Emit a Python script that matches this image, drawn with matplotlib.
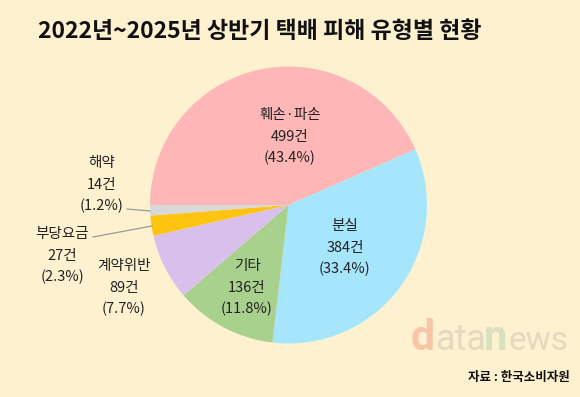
import matplotlib.pyplot as plt

plt.rcParams['font.family'] = ['Noto Sans CJK KR', 'DejaVu Sans']

categories = ['훼손·파손', '분실', '기타', '계약위반', '부당요금', '해약']
counts = [499, 384, 136, 89, 27, 14]
shares = [43.4, 33.4, 11.8, 7.7, 2.3, 1.2]
colors = ['#FFB6B6', '#A6E6FC', '#A9D18E', '#D9C0EC', '#FFC412', '#D9D9D9']

# label anchor points in pixel coords (x, y from top)
label_pos = [(290, 137), (345, 248), (247, 288), (124, 288), (62, 256), (102, 185)]

bg = '#FEF1CF'
W, H = 580, 397
fig = plt.figure(figsize=(W / 100, H / 100), dpi=100, facecolor=bg)
ax = fig.add_axes([0, 0, 1, 1])
ax.set_facecolor(bg)

cx, cy, r = 288.5, H - 205, 138.5
ax.pie(counts, colors=colors, startangle=180, counterclock=False,
       center=(cx, cy), radius=r, wedgeprops=dict(linewidth=0))
ax.set_xlim(0, W)
ax.set_ylim(0, H)
ax.set_aspect('equal')
ax.axis('off')

for cat, n, s, (x, y) in zip(categories, counts, shares, label_pos):
    ax.text(x, H - y, f'{cat}\n{n}건\n({s}%)', ha='center', va='center',
            fontsize=10.5, color='#222222', linespacing=1.65)

# leader lines for small slices
ax.plot([127, 150], [H - 209, H - 211], color='#999999', lw=0.9)
ax.plot([93, 152], [H - 237, H - 226], color='#999999', lw=0.9)

ax.text(260, H - 31, '2022년~2025년 상반기 택배 피해 유형별 현황',
        ha='center', va='center', fontsize=16.5, fontweight='bold', color='#111111')

# watermark
wm = [('d', 411, '#F6C6A6', 'bold', 31), ('ata', 435, '#E4D8BF', 'normal', 26),
      ('n', 484, '#D9E0BD', 'bold', 30), ('ews', 509, '#E4D8BF', 'normal', 24)]
for t, x, c, w, fs in wm:
    ax.text(x, H - 350, t, ha='left', va='baseline', fontsize=fs,
            color=c, fontweight=w, family='Roboto')

ax.text(570, H - 378, '자료 : 한국소비자원', ha='right', va='center',
        fontsize=9, fontweight='bold', color='#111111')

fig.savefig('out.png', dpi=100, facecolor=bg)
